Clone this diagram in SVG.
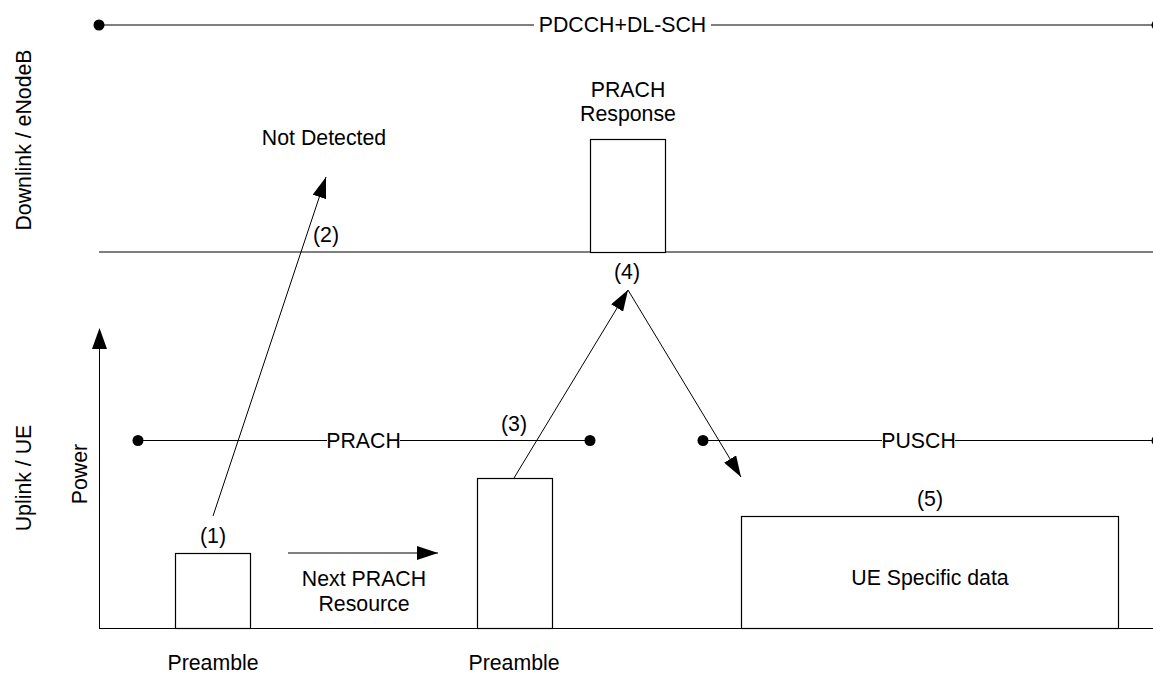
<svg xmlns="http://www.w3.org/2000/svg" width="1153" height="675" viewBox="0 0 1153 675">
<style>
text{font-family:"Liberation Sans",Arial,sans-serif;font-size:21.3px;fill:#000;text-anchor:middle}
.ln{stroke:#000;stroke-width:1;fill:none}
.sep{stroke:#555;stroke-width:1.4;fill:none}
.box{stroke:#000;stroke-width:1.2;fill:#fff}
.dot{fill:#000}
.mask{fill:#fff}
</style>
<defs>
<marker id="ah" markerWidth="22" markerHeight="14" refX="21" refY="7" orient="auto" markerUnits="userSpaceOnUse">
<path d="M0,0 L21,7 L0,14 Z" fill="#000"/>
</marker>
</defs>
<rect width="1153" height="675" fill="#fff"/>
<g id="axes">
<line class="sep" x1="99" y1="25" x2="1153" y2="25"/>
<circle class="dot" cx="99" cy="25" r="5.5"/>
<circle class="dot" cx="1157" cy="25" r="5.5"/>
<rect class="mask" x="534" y="12" width="177" height="26"/>
<text x="622.5" y="32">PDCCH+DL-SCH</text>
<line class="sep" x1="99" y1="252" x2="1153" y2="252"/>
<line class="ln" x1="99.5" y1="628" x2="99.5" y2="345"/>
<path d="M92,349 L99.5,328 L107,349 Z" fill="#000"/>
<line class="ln" x1="99" y1="628.5" x2="1153" y2="628.5"/>
<text transform="translate(31,140) rotate(-90)">Downlink / eNodeB</text>
<text transform="translate(31,478) rotate(-90)">Uplink / UE</text>
<text transform="translate(87,474) rotate(-90)">Power</text>
</g>
<g id="prach">
<line class="ln" x1="138" y1="440.5" x2="590" y2="440.5"/>
<circle class="dot" cx="138" cy="440.5" r="5.5"/>
<circle class="dot" cx="590" cy="440.5" r="5.5"/>
<rect class="mask" x="327" y="428" width="73" height="24"/>
<text x="363.5" y="448">PRACH</text>
</g>
<g id="pusch">
<line class="ln" x1="703" y1="440.5" x2="1153" y2="440.5"/>
<circle class="dot" cx="703" cy="440.5" r="5.5"/>
<circle class="dot" cx="1157" cy="440.5" r="5.5"/>
<rect class="mask" x="882" y="428" width="73" height="24"/>
<text x="918.5" y="448">PUSCH</text>
</g>
<g id="preamble1">
<rect class="box" x="175.5" y="553.5" width="75" height="75"/>
<text x="213" y="543">(1)</text>
<text x="213" y="670">Preamble</text>
</g>
<g id="preamble2">
<rect class="box" x="477.5" y="478.5" width="75" height="150"/>
<text x="514" y="431">(3)</text>
<text x="514" y="670">Preamble</text>
</g>
<g id="uedata">
<rect class="box" x="741.5" y="516.5" width="377" height="112"/>
<text x="930" y="506">(5)</text>
<text x="930" y="585">UE Specific data</text>
</g>
<g id="response">
<rect class="box" x="590.5" y="139.5" width="75" height="113"/>
<text x="628" y="97">PRACH</text>
<text x="628" y="121">Response</text>
<text x="627" y="279">(4)</text>
</g>
<g id="notdetected">
<text x="324" y="145">Not Detected</text>
<text x="326" y="242">(2)</text>
</g>
<g id="nextres">
<text x="364" y="586">Next PRACH</text>
<text x="364" y="611">Resource</text>
</g>
<g id="connectors">
<line class="ln" x1="213" y1="516" x2="326" y2="177" marker-end="url(#ah)"/>
<line class="ln" x1="514" y1="478" x2="628" y2="290" marker-end="url(#ah)"/>
<line class="ln" x1="628" y1="290" x2="741" y2="477" marker-end="url(#ah)"/>
<line class="ln" x1="288" y1="553" x2="438" y2="553" marker-end="url(#ah)"/>
</g>
</svg>
